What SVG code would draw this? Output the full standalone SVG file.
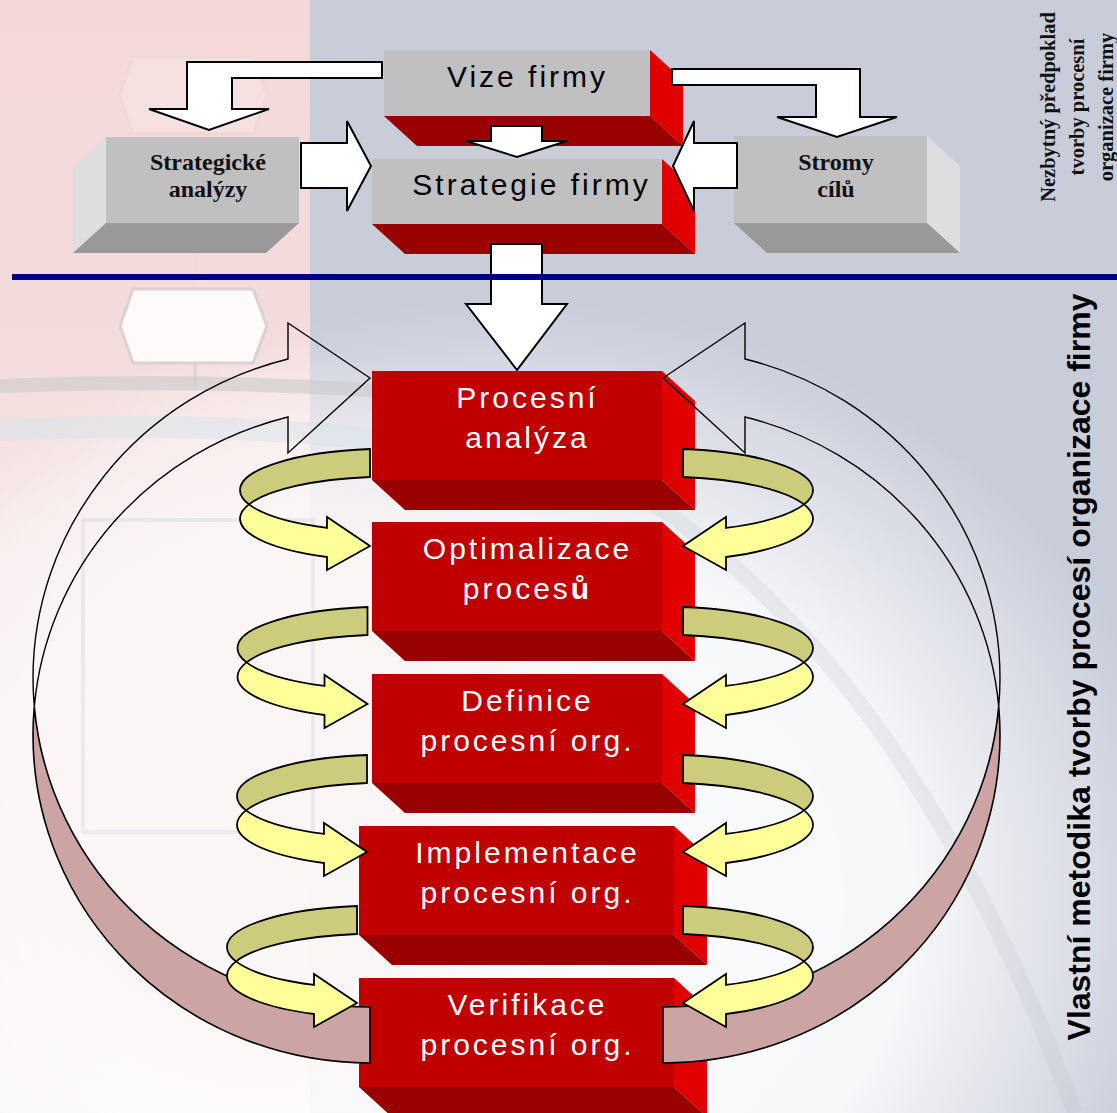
<svg xmlns="http://www.w3.org/2000/svg" xmlns:xlink="http://www.w3.org/1999/xlink" width="1117" height="1113" viewBox="0 0 1117 1113">
  <style>
    .front-gray { fill: #c0c0c0; }
    .side-gray { fill: #dedede; }
    .base-gray { fill: #999999; }
    .front-red { fill: #c00000; }
    .side-red { fill: #e00000; }
    .base-red { fill: #990000; }
    .lbl-sans { font-family: "Liberation Sans", Arial, sans-serif; font-size: 30px; letter-spacing: 3px; text-anchor: middle; }
    .lbl-red { fill: #ffffff; }
    .lbl-gray { fill: #000000; }
    .lbl-serif { font-family: "Liberation Serif", "Times New Roman", serif; font-weight: bold; font-size: 24px; text-anchor: middle; fill: #111111; }
    .block-arrow { fill: #ffffff; stroke: #000000; stroke-width: 2; stroke-linejoin: miter; }
    .ring-front { fill: none; stroke: #000000; stroke-width: 1.4; }
    .ring-back { fill: #cca4a4; stroke: #000000; stroke-width: 1.6; }
    .curl-back { fill: #cccc7c; stroke: #000000; stroke-width: 1.8; }
    .curl-front { fill: #ffff99; stroke: #000000; stroke-width: 1.8; }
    .side-note { font-family: "Liberation Serif", "Times New Roman", serif; font-weight: bold; font-size: 20.5px; text-anchor: middle; fill: #111111; }
    .side-title { font-family: "Liberation Sans", Arial, sans-serif; font-weight: bold; font-size: 32px; text-anchor: middle; fill: #000000; }
  </style>
  <defs>
    <linearGradient id="pinkGrad" x1="0" y1="0" x2="0" y2="1">
      <stop offset="0" stop-color="#f4d8d8"/>
      <stop offset="0.33" stop-color="#f4dcdc"/>
      <stop offset="0.5" stop-color="#f6eaea"/>
      <stop offset="1" stop-color="#f7f2f2"/>
    </linearGradient>
    <radialGradient id="glow" cx="0.5" cy="0.5" r="0.5">
      <stop offset="0" stop-color="#ffffff" stop-opacity="0.97"/>
      <stop offset="0.6" stop-color="#ffffff" stop-opacity="0.85"/>
      <stop offset="1" stop-color="#ffffff" stop-opacity="0"/>
    </radialGradient>
    <radialGradient id="glowSoft" cx="0.5" cy="0.5" r="0.5">
      <stop offset="0" stop-color="#fbf4f4" stop-opacity="0.95"/>
      <stop offset="0.6" stop-color="#fbf4f4" stop-opacity="0.7"/>
      <stop offset="1" stop-color="#fbf4f4" stop-opacity="0"/>
    </radialGradient>
    <!-- small curled arrow: olive back strip + yellow front strip with head; origin = tip x, top of tail -->
    <g id="curl">
      <path class="curl-back" d="M0,0 A150,41.6 0 0 0 -130,41.2 A150,41.6 0 0 0 -121,55.4 A150,42.15 0 0 1 0,28 Z"/>
      <path class="curl-front" d="M-121,55.4 A150,41.6 0 0 0 -43,78.9 L-43,68 L0,97 L-43,121 L-43,108 A150,42.15 0 0 1 -130,69.8 A150,42.15 0 0 1 -121,55.4 Z"/>
    </g>
    <!-- large loop arrow on the left: open front strip with head, shaded back strip -->
    <g id="ring">
      <path class="ring-back" d="M34.3,706.6 A337,329 0 0 0 370,1007 L370,1063 A337,328 0 0 1 33,735 A337,328 0 0 1 34.3,706.6 Z"/>
      <path class="ring-front" d="M288,359 A337,329 0 0 0 33,678 A337,329 0 0 0 34.3,706.6 A337,328 0 0 1 288,417 L288,453 L370,378 L288,323 Z"/>
    </g>
  </defs>

  <!-- backdrop -->
  <g id="backdrop">
    <rect width="1117" height="1113" fill="#c9cdda"/>
    <rect x="0" y="0" width="310" height="1113" fill="url(#pinkGrad)"/>
    <ellipse cx="500" cy="900" rx="690" ry="600" fill="url(#glow)"/>
    <ellipse cx="260" cy="760" rx="380" ry="420" fill="url(#glowSoft)"/>
    <polygon points="133,57 253,57 267,95 253,133 133,133 120,95" fill="#ffffff" fill-opacity="0.18" stroke="#e2d4d4" stroke-opacity="0.35" stroke-width="3"/>
    <line x1="195" y1="133" x2="195" y2="288" stroke="#e6dada" stroke-width="3" stroke-opacity="0.4"/>
    <polygon points="133,289 253,289 267,326 253,363 133,363 120,326" fill="#ffffff" fill-opacity="0.85" stroke="#ddd0d0" stroke-width="3"/>
    <line x1="195" y1="363" x2="195" y2="385" stroke="#ddd0d0" stroke-width="3"/>
    <path d="M0,386 Q200,378 400,392" fill="none" stroke="#c9cccc" stroke-width="14" stroke-opacity="0.6"/>
    <path d="M0,430 Q200,420 380,440" fill="none" stroke="#d6e4ea" stroke-width="22" stroke-opacity="0.5"/>
    <rect x="83" y="520" width="230" height="312" fill="none" stroke="#c8ccd8" stroke-width="4" stroke-opacity="0.3"/>
    <path d="M600,470 Q900,640 1075,1113" fill="none" stroke="#b9bdc6" stroke-width="16" stroke-opacity="0.22"/>
  </g>

  <!-- upper nodes -->
  <g id="node-strategicke-analyzy">
    <rect class="front-gray" x="106" y="137" width="193" height="86"/>
    <polygon class="side-gray" points="106,137 73,167 73,253 106,223"/>
    <polygon class="base-gray" points="106,223 299,223 266,253 73,253"/>
    <text class="lbl-serif" x="208" y="170">Strategické</text>
    <text class="lbl-serif" x="208" y="197">analýzy</text>
  </g>
  <g id="node-stromy-cilu">
    <rect class="front-gray" x="734" y="136" width="193" height="87"/>
    <polygon class="side-gray" points="927,136 960,166 960,253 927,223"/>
    <polygon class="base-gray" points="734,223 927,223 960,253 767,253"/>
    <text class="lbl-serif" x="836" y="170">Stromy</text>
    <text class="lbl-serif" x="836" y="197">cílů</text>
  </g>
  <g id="node-vize-firmy">
    <rect class="front-gray" x="384" y="50" width="266" height="66"/>
    <polygon class="side-red" points="650,50 683,80 683,146 650,116"/>
    <polygon class="base-red" points="384,116 650,116 683,146 417,146"/>
    <text class="lbl-sans lbl-gray" x="527.5" y="87">Vize firmy</text>
  </g>
  <g id="node-strategie-firmy">
    <rect class="front-gray" x="372" y="159" width="290" height="65"/>
    <polygon class="side-red" points="662,159 695,189 695,254 662,224"/>
    <polygon class="base-red" points="372,224 662,224 695,254 405,254"/>
    <text class="lbl-sans lbl-gray" x="531.5" y="195">Strategie firmy</text>
  </g>

  <!-- process nodes -->
  <g id="node-procesni-analyza">
    <rect class="front-red" x="372" y="371" width="290" height="109"/>
    <polygon class="side-red" points="662,371 695,401 695,510 662,480"/>
    <polygon class="base-red" points="372,480 662,480 695,510 405,510"/>
    <text class="lbl-sans lbl-red" x="527.5" y="408">Procesní</text>
    <text class="lbl-sans lbl-red" x="527.5" y="448">analýza</text>
  </g>
  <g id="node-optimalizace">
    <rect class="front-red" x="372" y="522" width="290" height="109"/>
    <polygon class="side-red" points="662,522 695,552 695,661 662,631"/>
    <polygon class="base-red" points="372,631 662,631 695,661 405,661"/>
    <text class="lbl-sans lbl-red" x="527.5" y="559">Optimalizace</text>
    <text class="lbl-sans lbl-red" x="527.5" y="599">proces<tspan font-weight="bold">ů</tspan></text>
  </g>
  <g id="node-definice">
    <rect class="front-red" x="372" y="674" width="290" height="109"/>
    <polygon class="side-red" points="662,674 695,704 695,813 662,783"/>
    <polygon class="base-red" points="372,783 662,783 695,813 405,813"/>
    <text class="lbl-sans lbl-red" x="527.5" y="711">Definice</text>
    <text class="lbl-sans lbl-red" x="527.5" y="751">procesní org.</text>
  </g>
  <g id="node-implementace">
    <rect class="front-red" x="359" y="826" width="315" height="109"/>
    <polygon class="side-red" points="674,826 707,856 707,965 674,935"/>
    <polygon class="base-red" points="359,935 674,935 707,965 392,965"/>
    <text class="lbl-sans lbl-red" x="527.5" y="863">Implementace</text>
    <text class="lbl-sans lbl-red" x="527.5" y="903">procesní org.</text>
  </g>
  <g id="node-verifikace">
    <rect class="front-red" x="359" y="978" width="315" height="109"/>
    <polygon class="side-red" points="674,978 707,1008 707,1117 674,1087"/>
    <polygon class="base-red" points="359,1087 674,1087 707,1117 392,1117"/>
    <text class="lbl-sans lbl-red" x="527.5" y="1015">Verifikace</text>
    <text class="lbl-sans lbl-red" x="527.5" y="1055">procesní org.</text>
  </g>

  <!-- connectors -->
  <g id="connectors">
    <polygon class="block-arrow" points="382,62 187,62 187,109 149,109 209,130 269,109 232,109 232,78 382,78"/>
    <polygon class="block-arrow" points="672,69 860,69 860,117 897,117 837,137 777,117 816,117 816,85 672,85"/>
    <polygon class="block-arrow" points="491,126 542,126 542,141 567,141 517,157 466,141 491,141"/>
    <polygon class="block-arrow" points="301,143 347,143 347,121 371,166 347,211 347,188 301,188"/>
    <polygon class="block-arrow" points="737,143 694,143 694,121 673,166 694,211 694,188 737,188"/>
    <polygon class="block-arrow" points="491,244 542,244 542,304 567,304 517,370 466,304 491,304"/>

    <use xlink:href="#ring"/>
    <use xlink:href="#ring" transform="translate(1033,0) scale(-1,1)"/>

    <use xlink:href="#curl" transform="translate(370,449)"/>
    <use xlink:href="#curl" transform="translate(367.5,607)"/>
    <use xlink:href="#curl" transform="translate(367,755)"/>
    <use xlink:href="#curl" transform="translate(357,906)"/>
    <use xlink:href="#curl" transform="translate(683,449) scale(-1,1)"/>
    <use xlink:href="#curl" transform="translate(683,607) scale(-1,1)"/>
    <use xlink:href="#curl" transform="translate(683,755) scale(-1,1)"/>
    <use xlink:href="#curl" transform="translate(683,906) scale(-1,1)"/>
  </g>

  <!-- divider between prerequisites and method -->
  <rect id="divider" x="12" y="274" width="1105" height="6" fill="#000080"/>

  <!-- side captions -->
  <g id="captions">
    <text class="side-note" transform="translate(1055,107) rotate(-90)">Nezbytný předpoklad</text>
    <text class="side-note" transform="translate(1084,107) rotate(-90)">tvorby procesní</text>
    <text class="side-note" transform="translate(1113,107) rotate(-90)">organizace firmy</text>
    <text class="side-title" transform="translate(1090,667) rotate(-90)">Vlastní metodika tvorby procesí organizace firmy</text>
  </g>
</svg>
